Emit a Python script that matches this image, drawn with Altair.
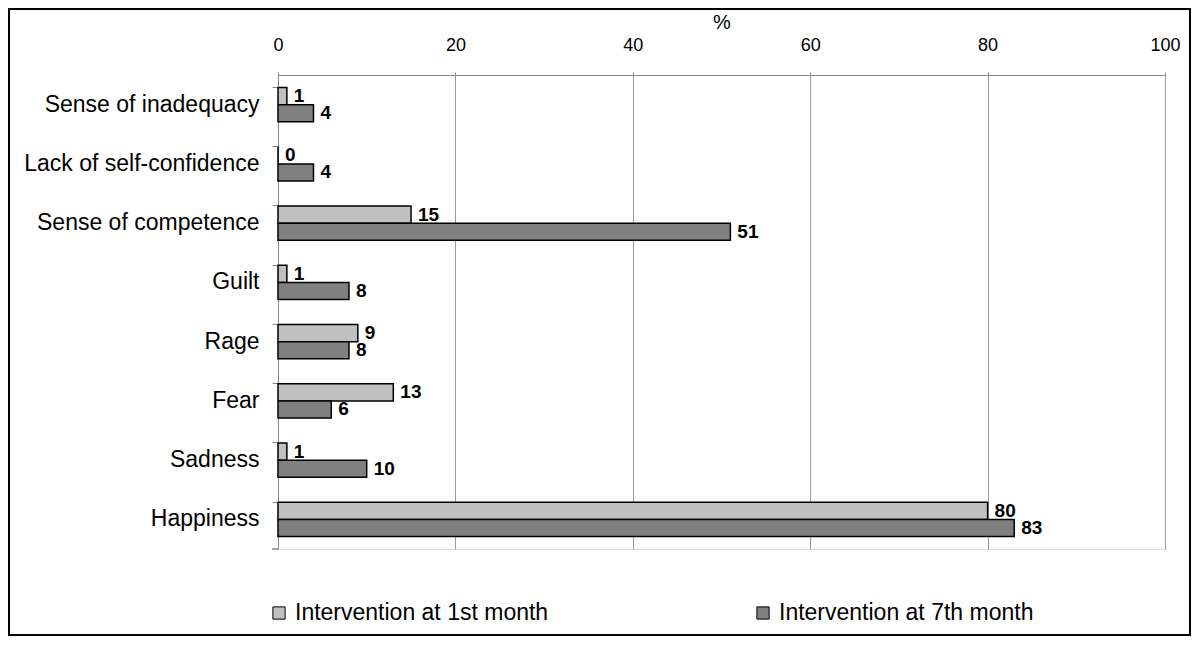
import altair as alt
import pandas as pd

categories = ["Sense of inadequacy", "Lack of self-confidence", "Sense of competence",
              "Guilt", "Rage", "Fear", "Sadness", "Happiness"]
series = ["Intervention at 1st month", "Intervention at 7th month"]
first_month = [1, 0, 15, 1, 9, 13, 1, 80]
seventh_month = [4, 4, 51, 8, 8, 6, 10, 83]
colors = ["#c0c0c0", "#808080"]

rows = []
for c, a, b in zip(categories, first_month, seventh_month):
    rows.append({"cat": c, "series": series[0], "value": a})
    rows.append({"cat": c, "series": series[1], "value": b})
df = pd.DataFrame(rows)

FONT = "Liberation Sans"
W, H = 887, 474

y_enc = alt.Y("cat:N", sort=categories, title=None,
              scale=alt.Scale(paddingInner=0.42, paddingOuter=0.21),
              axis=alt.Axis(labelFontSize=23, labelFont=FONT, labelColor="black",
                            labelPadding=13, tickSize=6, tickColor="#888",
                            domainColor="#888", bandPosition=0, labelLimit=400))
x_enc = alt.X("value:Q", title="%",
              scale=alt.Scale(domain=[0, 100], nice=False),
              axis=alt.Axis(orient="top", values=[0, 20, 40, 60, 80, 100],
                            labelFontSize=18, labelFont=FONT, labelColor="black",
                            labelPadding=18, labelFlush=False, tickSize=3, tickColor="#888",
                            domainColor="#888", grid=True, gridColor="#999",
                            titleFontSize=20, titleFont=FONT, titleFontWeight="normal",
                            titleColor="black", titlePadding=4))
color_enc = alt.Color("series:N", scale=alt.Scale(domain=series, range=colors), legend=None)
yoff_enc = alt.YOffset("series:N", sort=series)

base = alt.Chart(df)
bars = base.mark_bar(stroke="black", strokeWidth=1.5).encode(
    x=x_enc, y=y_enc, yOffset=yoff_enc, color=color_enc)
labels = base.mark_text(align="left", baseline="middle", dx=7, fontWeight="bold",
                        fontSize=19, font=FONT, color="black").encode(
    x="value:Q", y=alt.Y("cat:N", sort=categories), yOffset=yoff_enc, text="value:Q")

leg_df = pd.DataFrame({"series": series})
legend_layers = []
sq_x = [1, 485]
for i, s in enumerate(series):
    d = alt.Chart(leg_df).transform_filter(alt.datum.series == s)
    legend_layers.append(d.mark_square(size=150, stroke="black", strokeWidth=1, opacity=1).encode(
        x=alt.value(sq_x[i]), y=alt.value(538), color=color_enc))
    legend_layers.append(d.mark_text(align="left", baseline="middle", fontSize=23,
                                     font=FONT, color="black").encode(
        x=alt.value(sq_x[i] + 16), y=alt.value(538), text="series:N"))

border = alt.Chart(leg_df).mark_rect(fill=None, stroke="black", strokeWidth=2).encode(
    x=alt.value(-269), x2=alt.value(912), y=alt.value(-66), y2=alt.value(560))
bottom_tick = alt.Chart(leg_df).mark_rule(color="#888", strokeWidth=1).encode(
    x=alt.value(-6), x2=alt.value(0), y=alt.value(H))

chart = alt.layer(bars, labels, *legend_layers, border, bottom_tick).properties(
    width=W, height=H,
    autosize=alt.AutoSizeParams(type="none"),
    padding={"left": 270, "top": 67, "right": 27, "bottom": 88},
).configure_view(stroke="#888", strokeWidth=1).configure(background="white")

chart.save("out.html", embed_options={"renderer": "svg", "actions": False})
